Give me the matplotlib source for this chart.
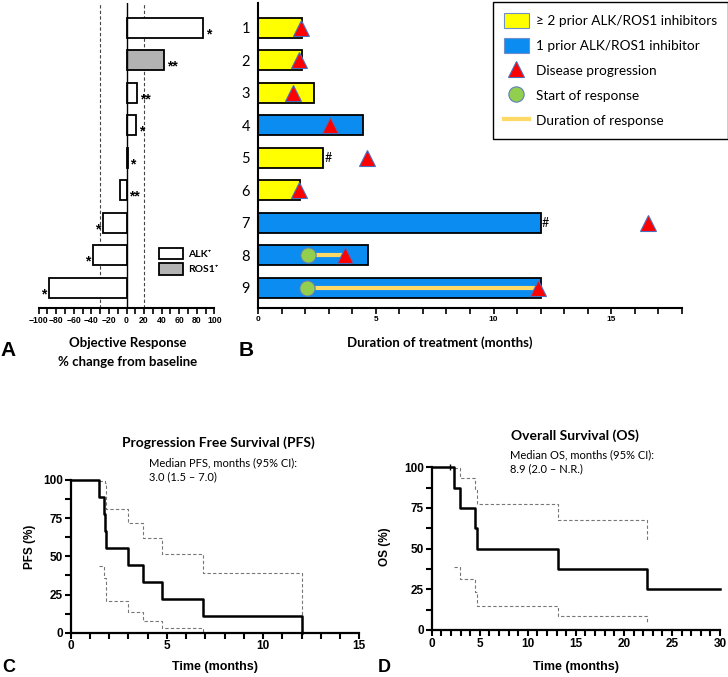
import matplotlib.pyplot as plt
from matplotlib.patches import Patch
from matplotlib.lines import Line2D
from matplotlib.ticker import MultipleLocator

# ---- data ----
patients = [1, 2, 3, 4, 5, 6, 7, 8, 9]

# A: best objective response (% change from baseline)
response = [87, 43, 12, 11, 1.5, -7, -27, -38, -88]
fusion = ["ALK", "ROS1", "ALK", "ALK", "ALK", "ALK", "ALK", "ALK", "ALK"]
stars = ["*", "**", "**", "*", "*", "**", "*", "*", "*"]

# B: swimmer plot (months)
treat_months = [1.87, 1.87, 2.36, 4.47, 2.77, 1.78, 12.0, 4.67, 12.0]
prior_tki = [">=2", ">=2", ">=2", "1", ">=2", ">=2", "1", "1", "1"]
progression = [1.80, 1.73, 1.49, 3.04, 4.63, 1.73, 16.56, 3.69, 11.91]
resp_rows = [8, 9]
resp_start = [2.12, 2.05]
resp_end = [3.69, 11.91]
ongoing_rows = [5, 7]

# C: PFS Kaplan-Meier with 95% CI
pfs_t = [0, 1.45, 1.73, 1.78, 1.85, 3.0, 3.75, 4.75, 6.9, 12.0]
pfs_s = [100, 88.9, 77.8, 66.7, 55.6, 44.4, 33.3, 22.2, 11.1, 0]
pfs_hi_t = [1.45, 1.78, 1.85, 3.0, 3.75, 4.75, 6.9, 12.0]
pfs_hi = [99.3, 98.0, 80.9, 72.1, 62.2, 51.3, 39.1, 0]
pfs_lo_t = [1.45, 1.73, 1.85, 3.0, 3.75, 4.75, 6.9]
pfs_lo = [43.5, 36.0, 20.6, 13.5, 7.6, 3.3, 0]

# D: OS Kaplan-Meier with 95% CI
os_t = [0, 2.33, 2.97, 4.55, 4.72, 13.1, 22.4, 30]
os_s = [100, 87.5, 75, 62.5, 50, 37.5, 25, 25]
os_censor_t = [1.9]
os_censor_s = [100]
os_hi_t = [2.33, 2.97, 4.55, 4.72, 13.1, 22.4]
os_hi = [99.4, 93.2, 86.9, 77.5, 67.6, 55.3]
os_lo_t = [2.33, 2.97, 4.55, 4.72, 13.1, 22.4]
os_lo = [38.5, 31.3, 23.3, 15.0, 8.6, 3.5]

W, H = 728, 677
CAL = "Lato"
ARI = "Liberation Sans"


def rect(x0, y0, x1, y1):
    return [x0 / W, 1 - y1 / H, (x1 - x0) / W, (y1 - y0) / H]


def fx(x):
    return x / W


def fy(y):
    return 1 - y / H


fig = plt.figure(figsize=(7.28, 6.77), dpi=100)

# ---------------- A ----------------
axA = fig.add_axes(rect(38.7, 3, 214.3, 308))
colA = ["white" if f == "ALK" else "#b3b3b3" for f in fusion]
axA.barh(patients, response, height=0.62, color=colA, edgecolor="black",
         linewidth=1.3, zorder=3)
axA.axvline(0, color="black", lw=1.0, zorder=4)
axA.axvline(-30, color="#444444", lw=0.8, ls=(0, (3, 2)), zorder=1)
axA.axvline(20, color="#444444", lw=0.8, ls=(0, (3, 2)), zorder=1)
for r, v, m in zip(patients, response, stars):
    if v > -10:
        axA.text(max(v, 0) + 3, r + 0.2, m, ha="left", va="center",
                 fontsize=10, fontweight="bold", family=ARI)
    else:
        axA.text(v - 3, r + 0.2, m, ha="right", va="center",
                 fontsize=10, fontweight="bold", family=ARI)
axA.set_xlim(-100, 100)
axA.set_ylim(9.63, 0.23)
axA.set_yticks([])
for s in ["left", "top", "right"]:
    axA.spines[s].set_visible(False)
axA.spines["bottom"].set_linewidth(1.5)
axA.xaxis.set_major_locator(MultipleLocator(20))
axA.xaxis.set_minor_locator(MultipleLocator(10))
axA.tick_params(axis="x", which="both", length=4, width=1.2, pad=1.5)
for lab in axA.get_xticklabels():
    lab.set_fontsize(6.2)
    lab.set_fontweight("bold")
    lab.set_family(ARI)
hA = [Patch(facecolor="white", edgecolor="black", linewidth=1.3),
      Patch(facecolor="#b3b3b3", edgecolor="black", linewidth=1.3)]
axA.legend(hA, ["ALK\u207a", "ROS1\u207a"], loc="upper left",
           bbox_to_anchor=(0.655, 0.215), frameon=False,
           prop={"family": [CAL, "DejaVu Sans"], "weight": "bold", "size": 7.5},
           handlelength=2.3, handleheight=1.3, labelspacing=0.4,
           borderpad=0, handletextpad=0.5)

# ---------------- B ----------------
axB = fig.add_axes(rect(258.3, 3, 681.7, 308))
colB = ["#ffff00" if p == ">=2" else "#0a8cf0" for p in prior_tki]
axB.barh(patients, treat_months, height=0.62, color=colB, edgecolor="black",
         linewidth=1.3, zorder=2)
for r, a, b in zip(resp_rows, resp_start, resp_end):
    axB.plot([a, b], [r, r], color="#ffd966", lw=3, solid_capstyle="butt",
             zorder=3)
axB.plot(resp_start, resp_rows, "o", ms=11, mfc="#92cf4f", mec="#5b7fb8",
         mew=0.8, zorder=4)
axB.plot(progression, patients, "^", ms=11, mfc="#ff0000", mec="#4a6fc0",
         mew=0.8, zorder=5)
for r in ongoing_rows:
    axB.text(treat_months[r - 1] + 0.05, r, "#", ha="left", va="center",
             fontsize=9, family=CAL)
axB.set_xlim(0, 18)
axB.set_ylim(9.63, 0.23)
axB.set_yticks(patients)
axB.set_yticklabels([str(p) for p in patients], fontsize=10.5, family=CAL)
axB.tick_params(axis="y", length=0, pad=6)
for s in ["top", "right"]:
    axB.spines[s].set_visible(False)
axB.spines["left"].set_linewidth(1.5)
axB.spines["bottom"].set_linewidth(1.5)
axB.xaxis.set_major_locator(MultipleLocator(5))
axB.xaxis.set_minor_locator(MultipleLocator(1))
axB.tick_params(axis="x", which="both", length=4, width=1.2, pad=1.5)
for lab in axB.get_xticklabels():
    lab.set_fontsize(6)
    lab.set_fontweight("bold")
    lab.set_family(ARI)
hB = [Patch(facecolor="#ffff00", edgecolor="#6f8fc8", linewidth=0.8),
      Patch(facecolor="#0a8cf0", edgecolor="#6f8fc8", linewidth=0.8),
      Line2D([], [], ls="none", marker="^", ms=11, mfc="#ff0000",
             mec="#4a6fc0", mew=0.8),
      Line2D([], [], ls="none", marker="o", ms=11, mfc="#92cf4f",
             mec="#5b7fb8", mew=0.8),
      Line2D([], [], color="#ffd966", lw=3)]
legB = fig.legend(hB, ["\u2265 2 prior ALK/ROS1 inhibitors",
                       "1 prior ALK/ROS1 inhibitor",
                       "Disease progression", "Start of response",
                       "Duration of response"],
                  loc="upper left", bbox_to_anchor=(fx(492.7), fy(1.7)),
                  borderaxespad=0,
                  prop={"family": CAL, "size": 9.8}, fancybox=False,
                  edgecolor="black", framealpha=1, handlelength=1.85,
                  handleheight=1.4, labelspacing=0.68, borderpad=0.8,
                  handletextpad=0.5)
legB.get_frame().set_linewidth(1.0)

# ---------------- C / D ----------------
def km_axes(ax, xmax, xmajor):
    ax.set_xlim(0, xmax)
    ax.set_ylim(0, 100)
    for s in ["top", "right"]:
        ax.spines[s].set_visible(False)
    ax.spines["left"].set_linewidth(1.6)
    ax.spines["bottom"].set_linewidth(1.6)
    ax.xaxis.set_major_locator(MultipleLocator(xmajor))
    ax.xaxis.set_minor_locator(MultipleLocator(1))
    ax.yaxis.set_major_locator(MultipleLocator(25))
    ax.yaxis.set_minor_locator(MultipleLocator(12.5))
    ax.tick_params(which="both", length=4, width=1.5, pad=1.5)
    for lab in ax.get_xticklabels() + ax.get_yticklabels():
        lab.set_fontsize(8.5)
        lab.set_fontweight("bold")
        lab.set_family(ARI)


axC = fig.add_axes(rect(70.7, 480, 359.3, 632.7))
axC.step(pfs_t, pfs_s, where="post", color="black", lw=1.8, clip_on=False,
         zorder=3)
axC.step(pfs_hi_t, pfs_hi, where="post", color="#777777", lw=0.8,
         ls=(0, (3, 2)), zorder=2)
axC.step(pfs_lo_t, pfs_lo, where="post", color="#777777", lw=0.8,
         ls=(0, (3, 2)), zorder=2)
km_axes(axC, 15, 5)

axD = fig.add_axes(rect(431.7, 467.3, 720, 630))
axD.step(os_t, os_s, where="post", color="black", lw=1.8, clip_on=False,
         zorder=3)
axD.plot(os_censor_t, os_censor_s, ls="none", marker="|", ms=5, mew=1.0,
         color="black", clip_on=False, zorder=3)
axD.step(os_hi_t, os_hi, where="post", color="#777777", lw=0.8,
         ls=(0, (3, 2)), zorder=2)
axD.step(os_lo_t, os_lo, where="post", color="#777777", lw=0.8,
         ls=(0, (3, 2)), zorder=2)
km_axes(axD, 30, 5)

# ---------------- text ----------------
fig.text(fx(128), fy(343), "Objective Response", ha="center", va="center",
         fontsize=9.5, fontweight="bold", family=CAL)
fig.text(fx(128), fy(362), "% change from baseline", ha="center",
         va="center", fontsize=9.5, fontweight="bold", family=CAL)
fig.text(fx(440), fy(343), "Duration of treatment (months)", ha="center",
         va="center", fontsize=9.5, fontweight="bold", family=CAL)

fig.text(fx(218), fy(443), "Progression Free Survival (PFS)", ha="center",
         va="center", fontsize=10, fontweight="bold", family=CAL)
fig.text(fx(149), fy(470), "Median PFS, months (95% CI):\n3.0 (1.5 \u2013 7.0)",
         ha="left", va="center", fontsize=8, family=CAL, linespacing=1.3)
fig.text(fx(575), fy(436), "Overall Survival (OS)", ha="center",
         va="center", fontsize=10, fontweight="bold", family=CAL)
fig.text(fx(510), fy(461.5), "Median OS, months (95% CI):\n8.9 (2.0 \u2013 N.R.)",
         ha="left", va="center", fontsize=8, family=CAL, linespacing=1.3)

fig.text(fx(30), fy(547), "PFS (%)", rotation=90, ha="center", va="center",
         fontsize=8.5, fontweight="bold", family=ARI)
fig.text(fx(385), fy(547), "OS (%)", rotation=90, ha="center", va="center",
         fontsize=8.5, fontweight="bold", family=ARI)
fig.text(fx(215), fy(667), "Time (months)", ha="center", va="center",
         fontsize=9, fontweight="bold", family=ARI)
fig.text(fx(576), fy(667), "Time (months)", ha="center", va="center",
         fontsize=9, fontweight="bold", family=ARI)

for lbl, x, y, sz in [("A", 8, 350, 15), ("B", 246, 350, 15),
                      ("C", 9, 667, 13), ("D", 384, 667, 13)]:
    fig.text(fx(x), fy(y), lbl, ha="center", va="center", fontsize=sz,
             fontweight="bold", family=ARI)

fig.savefig("out.png", dpi=100)
